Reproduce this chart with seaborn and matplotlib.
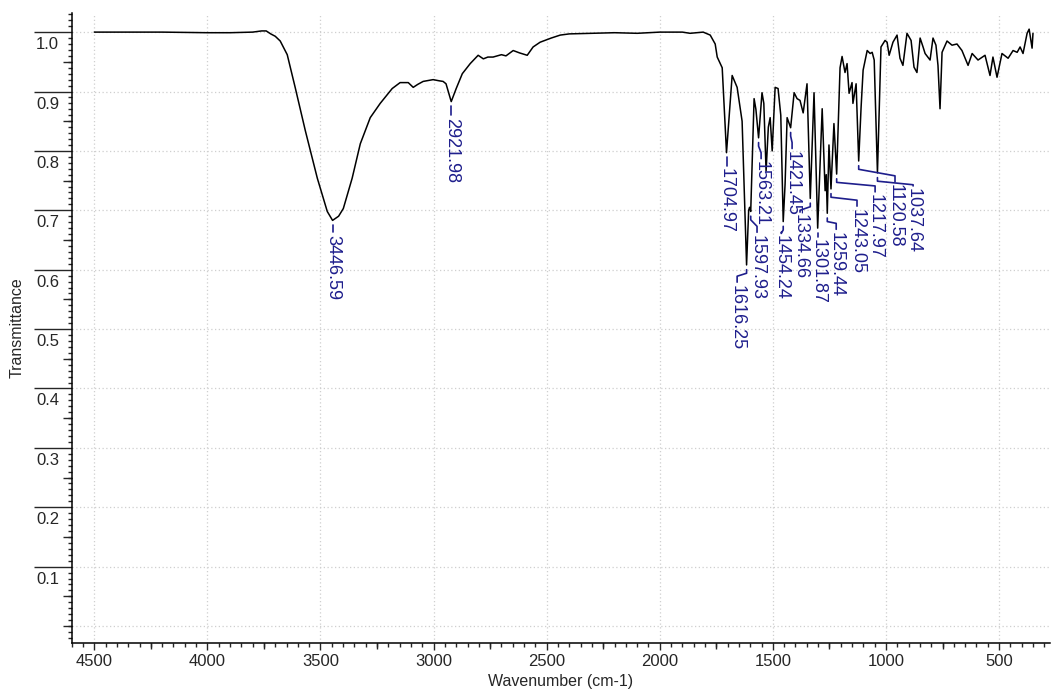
import numpy as np
import pandas as pd
import matplotlib
matplotlib.use("Agg")
import matplotlib.pyplot as plt
import matplotlib.transforms as mtransforms
from matplotlib.ticker import MultipleLocator, FixedLocator
import seaborn as sns

# ============================================================
# DATA
# ============================================================
wavenumber = [
    4500, 4400, 4200, 4000, 3900, 3800, 3760, 3740, 3720, 3700,
    3678, 3647, 3612, 3567, 3514, 3470, 3446.59, 3420, 3399, 3360,
    3324, 3280, 3236, 3183, 3148, 3112, 3090, 3070, 3046, 3002,
    2975, 2958, 2945, 2921.98, 2900, 2873, 2838, 2803, 2780, 2760,
    2737, 2700, 2680, 2648, 2620, 2586, 2560, 2529, 2480, 2440,
    2400, 2300, 2200, 2100, 2000, 1900, 1866, 1808, 1777, 1755,
    1746, 1724, 1704.97, 1680, 1658, 1636, 1616.25, 1607, 1603, 1597.93,
    1590, 1583, 1575, 1563.21, 1548, 1540, 1530, 1520, 1512, 1503,
    1490, 1477, 1465, 1454.24, 1446, 1437, 1421.45, 1406, 1393, 1380,
    1366, 1349, 1334.66, 1318, 1301.87, 1282, 1269, 1264, 1259.44, 1252,
    1243.05, 1230, 1217.97, 1203, 1194, 1181, 1172, 1163, 1150, 1146,
    1132, 1120.58, 1110, 1101, 1083, 1070, 1061, 1052, 1037.64, 1022,
    1004, 995, 986, 969, 951, 938, 925, 907, 889, 876,
    863, 849, 836, 827, 805, 792, 779, 770, 761, 752,
    730, 708, 686, 664, 637, 619, 593, 562, 540, 527,
    509, 487, 460, 438, 420, 407, 394, 376, 367, 354,
    350,
]
transmittance = [
    1.000, 1.000, 1.000, 0.999, 0.999, 1.000, 1.002, 1.002, 0.997, 0.993,
    0.985, 0.962, 0.907, 0.834, 0.754, 0.698, 0.683, 0.690, 0.703, 0.754,
    0.812, 0.856, 0.880, 0.905, 0.915, 0.915, 0.907, 0.912, 0.917, 0.920,
    0.918, 0.917, 0.913, 0.883, 0.905, 0.930, 0.947, 0.961, 0.955, 0.958,
    0.958, 0.962, 0.960, 0.969, 0.965, 0.961, 0.975, 0.983, 0.990, 0.995,
    0.997, 0.998, 0.999, 0.998, 1.000, 1.000, 0.998, 1.000, 0.995, 0.980,
    0.958, 0.940, 0.797, 0.927, 0.907, 0.850, 0.608, 0.700, 0.705, 0.698,
    0.800, 0.888, 0.870, 0.822, 0.898, 0.880, 0.766, 0.840, 0.856, 0.800,
    0.907, 0.905, 0.860, 0.681, 0.744, 0.856, 0.839, 0.898, 0.888, 0.885,
    0.864, 0.913, 0.720, 0.898, 0.670, 0.871, 0.733, 0.760, 0.695, 0.810,
    0.736, 0.846, 0.761, 0.940, 0.959, 0.932, 0.947, 0.897, 0.915, 0.880,
    0.913, 0.783, 0.873, 0.936, 0.969, 0.964, 0.966, 0.953, 0.763, 0.975,
    0.986, 0.983, 0.961, 0.983, 0.995, 0.956, 0.944, 0.998, 0.986, 0.941,
    0.932, 0.990, 0.975, 0.964, 0.953, 0.990, 0.978, 0.944, 0.871, 0.966,
    0.985, 0.978, 0.980, 0.969, 0.944, 0.964, 0.953, 0.961, 0.927, 0.958,
    0.924, 0.964, 0.956, 0.969, 0.966, 0.975, 0.964, 0.998, 1.005, 0.973,
    0.998,
]

# picked peaks
peak_labels = ["3446.59", "2921.98", "1704.97", "1616.25", "1597.93",
               "1563.21", "1454.24", "1421.45", "1334.66", "1301.87",
               "1259.44", "1243.05", "1217.97", "1120.58", "1037.64"]

# where each peak label sits (x in cm-1, top of text in transmittance)
label_x = [3446.59, 2921.98, 1704.97, 1658, 1570, 1552, 1463, 1415, 1380,
           1300, 1220, 1128, 1048, 960, 880]
label_top = [0.659, 0.856, 0.771, 0.575, 0.659, 0.783, 0.659, 0.800, 0.693,
             0.651, 0.664, 0.703, 0.727, 0.744, 0.737]

x_ticks = [4500, 4000, 3500, 3000, 2500, 2000, 1500, 1000, 500]
x_mid_ticks = [4250, 3750, 3250, 2750, 2250, 1750, 1250, 750]
y_ticks = [0.1, 0.2, 0.3, 0.4, 0.5, 0.6, 0.7, 0.8, 0.9, 1.0]
y_mid_ticks = [0.0, 0.05, 0.15, 0.25, 0.35, 0.45, 0.55, 0.65, 0.75, 0.85, 0.95]

LABEL_COLOR = "#1e1e8c"
GRID_COLOR = "#cfcfcf"

# ============================================================
# STYLE
# ============================================================
sns.set_style("white")
plt.rcParams["font.family"] = ["Liberation Sans", "DejaVu Sans"]

df = pd.DataFrame({"wn": wavenumber, "T": transmittance})

fig = plt.figure(figsize=(10.51, 6.90), dpi=100)
ax = fig.add_axes([0.0682, 0.0686, 0.9308, 0.9124])

sns.lineplot(data=df, x="wn", y="T", ax=ax, color="black", lw=1.1,
             sort=False, estimator=None)

ax.set_xlim(4600, 275)
ax.set_ylim(-0.028, 1.032)

# grid: dotted light grey
for v in x_ticks:
    ax.axvline(v, color=GRID_COLOR, lw=0.9, ls=(0, (1, 2)), zorder=0)
for v in [0.0] + y_ticks:
    ax.axhline(v, color=GRID_COLOR, lw=0.9, ls=(0, (1, 2)), zorder=0)

# spines
for s in ["top", "right"]:
    ax.spines[s].set_visible(False)
for s in ["left", "bottom"]:
    ax.spines[s].set_linewidth(1.1)
    ax.spines[s].set_color("black")

# x ticks
ax.xaxis.set_major_locator(FixedLocator(x_ticks))
ax.xaxis.set_minor_locator(MultipleLocator(50))
ax.tick_params(axis="x", which="major", direction="out", length=5, width=1.0,
               labelsize=12, pad=3, bottom=True)
ax.tick_params(axis="x", which="minor", direction="out", length=2.9, width=1.0,
               bottom=True)
secx = ax.secondary_xaxis("bottom")
secx.set_xticks(x_mid_ticks)
secx.tick_params(direction="out", length=4.3, width=1.0, labelbottom=False)
secx.spines["bottom"].set_visible(False)

# y ticks: long major ticks with the value written underneath
ax.yaxis.set_major_locator(FixedLocator(y_ticks))
ax.yaxis.set_minor_locator(MultipleLocator(0.01))
ax.set_yticks(y_ticks)
ax.set_yticklabels([f"{v:.1f}" for v in y_ticks])
ax.tick_params(axis="y", which="major", direction="out", length=27.4, width=1.0,
               labelsize=12, pad=-1.7, left=True)
ax.tick_params(axis="y", which="minor", direction="out", length=2.9, width=1.0,
               left=True)
offset = mtransforms.ScaledTranslation(0, -0.05, fig.dpi_scale_trans)
for lbl in ax.get_yticklabels():
    lbl.set_horizontalalignment("left")
    lbl.set_verticalalignment("top")
    lbl.set_transform(lbl.get_transform() + offset)
secy = ax.secondary_yaxis("left")
secy.set_yticks(y_mid_ticks)
secy.tick_params(direction="out", length=6.5, width=1.0, labelleft=False)
secy.spines["left"].set_visible(False)

ax.set_xlabel("Wavenumber (cm-1)", fontsize=11.5)
ax.set_ylabel("Transmittance", fontsize=11.5)
ax.xaxis.set_label_coords(0.5, -0.049)
ax.yaxis.set_label_coords(-0.0477, 0.5)

# ============================================================
# PEAK LABELS with leader lines
# ============================================================
wn_arr = np.array(wavenumber)
t_arr = np.array(transmittance)
for name, lx, top in zip(peak_labels, label_x, label_top):
    pk = float(name)
    tpk = t_arr[np.argmin(np.abs(wn_arr - pk))]
    start = tpk - 0.008
    if abs(lx - pk) < 3:
        xs, ys = [pk, pk], [start, top + 0.004]
    else:
        hi = tpk - 0.014
        lo = top + 0.014
        if lo > hi:
            lo = hi - 0.006
        xs = [pk, pk, lx, lx]
        ys = [start, hi, lo, top + 0.004]
    ax.plot(xs, ys, color=LABEL_COLOR, lw=1.2, clip_on=False)
    ax.text(lx, top, name, rotation=-90, ha="center", va="top",
            fontsize=13, color=LABEL_COLOR)

fig.savefig("out.png", dpi=100)
